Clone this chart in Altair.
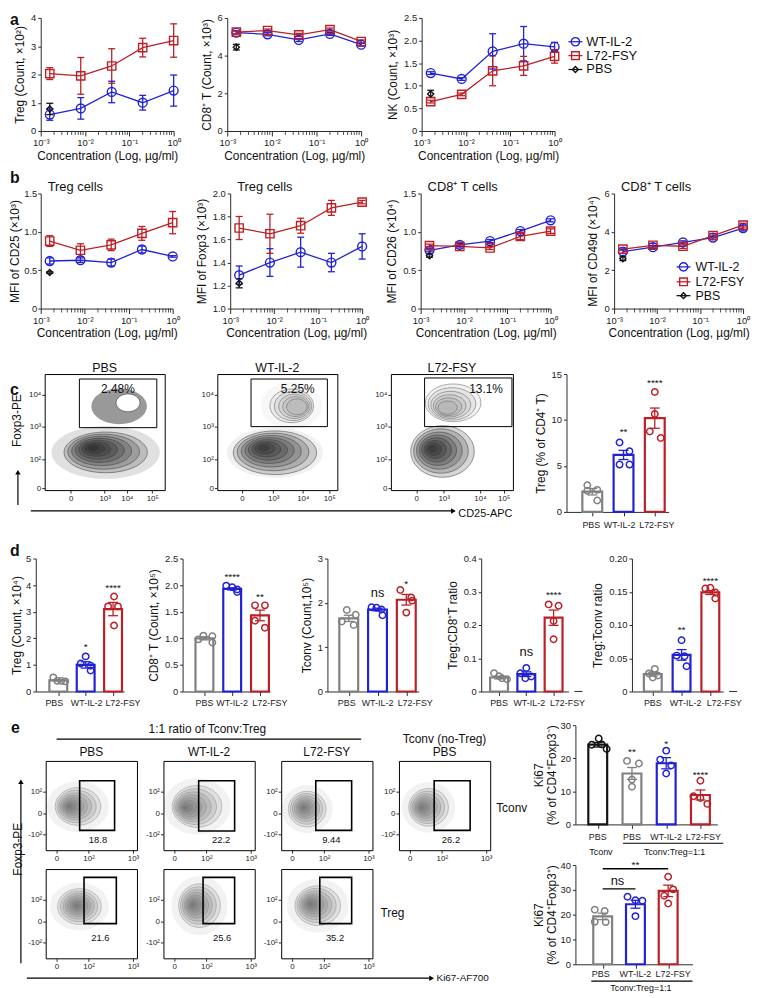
import altair as alt
import pandas as pd

FONT = "Liberation Sans"
BLUE = "#2222d4"
RED = "#bc2027"
GRAY = "#808080"
BLACK = "#141414"
AXC = "#2b2b2b"

# ---------------- panel a / b : dose response ----------------
CONC = [0.0016, 0.008, 0.04, 0.2, 1.0]
PBS_CONC = [0.0016]
SERIES = ["WT-IL-2", "L72-FSY", "PBS"]

A1_WT = [0.58, 0.80, 1.38, 1.00, 1.43]
A1_WT_E = [0.20, 0.38, 0.38, 0.26, 0.55]
A1_L72 = [2.03, 1.95, 2.30, 2.95, 3.20]
A1_L72_E = [0.21, 0.65, 0.61, 0.33, 0.59]
A1_PBS, A1_PBS_E = [0.78], [0.20]

A2_WT = [5.22, 5.13, 4.83, 5.15, 4.58]
A2_WT_E = [0.08, 0.08, 0.08, 0.08, 0.08]
A2_L72 = [5.25, 5.33, 5.10, 5.38, 4.75]
A2_L72_E = [0.08, 0.08, 0.08, 0.08, 0.08]
A2_PBS, A2_PBS_E = [4.45], [0.15]

A3_WT = [1.28, 1.15, 1.76, 1.93, 1.86]
A3_WT_E = [0.03, 0.03, 0.39, 0.38, 0.10]
A3_L72 = [0.65, 0.81, 1.33, 1.44, 1.65]
A3_L72_E = [0.03, 0.03, 0.33, 0.21, 0.15]
A3_PBS, A3_PBS_E = [0.82], [0.08]

B1_WT = [0.62, 0.63, 0.60, 0.77, 0.68]
B1_WT_E = [0.04, 0.03, 0.045, 0.045, 0.01]
B1_L72 = [0.88, 0.76, 0.83, 0.98, 1.12]
B1_L72_E = [0.07, 0.085, 0.075, 0.09, 0.145]
B1_PBS, B1_PBS_E = [0.47], [0.01]

B2_WT = [1.29, 1.40, 1.49, 1.40, 1.54]
B2_WT_E = [0.08, 0.12, 0.13, 0.08, 0.11]
B2_L72 = [1.70, 1.65, 1.72, 1.875, 1.925]
B2_L72_E = [0.10, 0.17, 0.065, 0.065, 0.015]
B2_PBS, B2_PBS_E = [1.22], [0.04]

B3_WT = [0.76, 0.83, 0.88, 1.01, 1.15]
B3_WT_E = [0.02, 0.02, 0.02, 0.02, 0.02]
B3_L72 = [0.82, 0.81, 0.79, 0.94, 1.01]
B3_L72_E = [0.02, 0.02, 0.02, 0.04, 0.03]
B3_PBS, B3_PBS_E = [0.69], [0.02]

B4_WT = [2.97, 3.20, 3.45, 3.70, 4.20]
B4_WT_E = [0.10, 0.08, 0.08, 0.08, 0.15]
B4_L72 = [3.10, 3.30, 3.25, 3.80, 4.35]
B4_L72_E = [0.05, 0.10, 0.12, 0.10, 0.10]
B4_PBS, B4_PBS_E = [2.60], [0.10]

# ---------------- bar charts ----------------
G3 = ["PBS", "WT-IL-2", "L72-FSY"]
C3COL = [GRAY, BLUE, RED]

CB_MEAN = [2.2, 6.2, 10.2]
CB_SEM = [0.35, 0.5, 1.1]
CB_PTS = [[2.9, 2.4, 2.3, 1.25], [7.55, 6.6, 5.15, 5.15], [13.05, 10.65, 8.75, 8.05]]
CB_SIG = [(1, 9.0, "**"), (2, 14.4, "****")]

D1_MEAN = [0.42, 1.0, 3.1]
D1_SEM = [0.03, 0.12, 0.25]
D1_PTS = [[0.53, 0.40, 0.40, 0.38], [1.32, 1.05, 0.97, 0.79], [3.57, 3.2, 3.2, 2.48]]
D1_SIG = [(1, 1.8, "*"), (2, 4.0, "****")]

D2_MEAN = [1.0, 1.93, 1.43]
D2_SEM = [0.03, 0.02, 0.10]
D2_PTS = [[1.05, 1.04, 0.98, 0.92], [1.99, 1.96, 1.92, 1.87], [1.62, 1.62, 1.33, 1.2]]
D2_SIG = [(1, 2.2, "****"), (2, 1.83, "**")]

D3_MEAN = [1.65, 1.85, 2.07]
D3_SEM = [0.07, 0.03, 0.12]
D3_PTS = [[1.84, 1.73, 1.58, 1.5], [1.9, 1.89, 1.85, 1.72], [2.29, 2.12, 2.05, 1.78]]
D3_SIG = [(1, 2.22, "ns"), (2, 2.5, "*")]

D4_MEAN = [0.042, 0.052, 0.222]
D4_SEM = [0.004, 0.007, 0.023]
D4_PTS = [[0.055, 0.046, 0.04, 0.037], [0.071, 0.055, 0.045, 0.04], [0.262, 0.258, 0.212, 0.157]]
D4_SIG = [(1, 0.118, "ns"), (2, 0.3, "****")]

D5_MEAN = [0.026, 0.055, 0.149]
D5_SEM = [0.003, 0.008, 0.003]
D5_PTS = [[0.034, 0.027, 0.024, 0.021], [0.077, 0.054, 0.053, 0.038], [0.155, 0.156, 0.149, 0.14]]
D5_SIG = [(1, 0.0965, "**"), (2, 0.17, "****")]

ET_CATS = ["PBS", "PBS", "WT-IL-2", "L72-FSY"]
ET_COL = [BLACK, GRAY, BLUE, RED]
ET_MEAN = [24.1, 15.4, 18.5, 8.9]
ET_SEM = [0.7, 1.8, 1.7, 1.5]
ET_PTS = [[24.1, 26.0, 24.2, 22.8], [19.2, 18.4, 13.6, 11.4], [22.3, 19.6, 17.8, 15.4], [13.2, 8.5, 8.0, 6.2]]
ET_SIG = [(1, 22.8, "**"), (2, 25.2, "*"), (3, 15.9, "****")]

EB_MEAN = [19.3, 24.2, 29.6]
EB_SEM = [1.3, 1.6, 2.3]
EB_PTS = [[22.0, 21.5, 17.1, 17.0], [27.2, 25.8, 25.6, 19.4], [35.3, 30.2, 27.6, 24.5]]
EB_LINES = [(0, 1, 30.4), (0, 2, 38.5)]
EB_SIG = [(0.45, 33.6, "ns"), (1.0, 41.3, "**")]

# layout-only: point jitter and category-label shifts (px)
CB_JIT = [[-5, 5, -5, 5], [-4, 6, -4, 6], [0, 0, -5, 6]]
D1_JIT = [[-5, -1, 3, 7], [0, -5, 5, 5], [1, -5, 5, 1]]
D2_JIT = [[-1, 8, -6, 8], [-6, 0, 5, 5], [-5, 5, -5, 5]]
D3_JIT = [[-2, 7, -7, 5], [-6, -1, 4, 5], [-6, 5, 6, 0]]
D4_JIT = [[-5, 0, 3, 8], [0, -6, 5, -1], [-5, 5, 0, 0]]
D5_JIT = [[2, -4, 5, 0], [0, -5, 3, 5], [-5, 0, 5, 5]]
ET_JIT = [[-6, 1, 4, 9], [-5, 7, 0, 0], [0, -6, 5, 0], [0, -7, 0, 7]]
EB_JIT = [[-8, 2, -8, 3], [-8, 0, 7, 0], [0, 5, -4, 0]]
CB_LSH = [-1, -4, 2]
D1_LSH = [-4, 1, 10]
D2_LSH = [0, 0, 10]
D3_LSH = [-2, 0, 9]
D4_LSH = [0, 3, 14]
D5_LSH = [0, 4, 14]
ET_LSH = [0, 0, 0, 3]
EB_LSH = [-2, 0, 5]

# ---------------- flow plots ----------------
C_PCT = ["2.48%", "5.25%", "13.1%"]
E_PCT = ["18.8", "22.2", "9.44", "26.2", "21.6", "25.6", "35.2"]
C_XT = [[21.6, 49.9, 68.5, 89.6], [20.5, 46.6, 71.2, 93.2], [20.8, 43.2, 73.0, 92.4]]
C_XL = ["0", "10³", "10⁴", "10⁵"]
C_YT = [1.5, 26.2, 54.7, 82.1]
C_YL = ["0", "10²", "10³", "10⁴"]
E_XT = [11.7, 47.0, 95.6]
E_XL = ["0", "10²", "10³"]
E_YT = [17.8, 40.7, 66.0]
E_YL = ["-10²", "0", "10²"]
C_GATES = [(28.9, 93.4, 53.8, 95.7), (28.1, 91.7, 54.7, 95.7), (27.6, 99.2, 54.7, 96.6)]
E_GATES = [(37.2, 75.5, 22.2, 77.8), (38.6, 78.0, 21.5, 77.8), (37.9, 77.2, 22.2, 77.8), (38.6, 78.0, 22.2, 77.8),
           (42.0, 77.4, 38.9, 90.7), (43.4, 78.0, 38.9, 90.7), (42.3, 77.2, 38.9, 90.7)]
C_LABXY = [(61, 87.2), (67, 87.2), (78, 87.2)]
E_LABXY = [(57.3, 11.9), (63.2, 11.9), (55, 11.9), (57, 11.9), (60, 23), (64.3, 23), (59, 23)]

C_POPS = [
    [dict(cx=50.8, cy=32.5, rx=42, ry=20.5, kx=38.8, ky=36.8, n=8, op=0.16, fill="#000", stk="#333", halo=1.3,
          hop=0.12),
     dict(cx=62, cy=72.2, rx=28, ry=18, kx=62, ky=72.2, n=1, op=0.4, fill="#000", stk="transparent"),
     dict(cx=69.4, cy=75.2, rx=12, ry=9, kx=69.4, ky=75.2, n=1, op=1, fill="#fff", stk="#222")],
    [dict(cx=48, cy=32.2, rx=42, ry=22, kx=37, ky=36.8, n=8, op=0.15, fill="#000", stk="#333", halo=1.15, hop=0.06),
     dict(cx=62, cy=72.6, rx=22, ry=17, kx=70, ky=71.1, n=5, op=0.05, fill="#000", stk="#555", halo=1.4,
          hop=0.03)],
    [dict(cx=42.3, cy=33.3, rx=32, ry=26, kx=33, ky=35.9, n=8, op=0.16, fill="#000", stk="#333"),
     dict(cx=51, cy=75.2, rx=28, ry=19, kx=44, ky=68.9, n=6, op=0.05, fill="#000", stk="#555")],
]
E_POPS = [
    (35.4, 49, 23, 19, 24.5, 49), (36.8, 49, 25, 21, 22.4, 47.4), (28.5, 46, 19, 18, 24, 48), (32.5, 48, 20, 19, 24, 48),
    (37, 58, 22, 18, 33.6, 59.3), (39.5, 59, 21, 22, 31, 60), (40, 59, 23, 20, 31, 61),
]
LEVELS = [1.0, 0.86, 0.72, 0.59, 0.47, 0.35, 0.24, 0.13]

ONE = pd.DataFrame({"a": [0]})


def lab_expr(vals, labs):
    s = "''"
    for v, l in reversed(list(zip(vals, labs))):
        s = f"abs(datum.value - ({v})) < 1e-6 ? '{l}' : ({s})"
    return s


def num_expr(dec):
    return f"datum.value == 0 ? '0' : format(datum.value, '.{dec}f')"


def T(t, x, y, fs=12, align="left", baseline="alphabetic", weight="normal", angle=0):
    return alt.Chart(pd.DataFrame({"t": [t]})).mark_text(
        align=align, baseline=baseline, fontSize=fs, fontWeight=weight, angle=angle, font=FONT, color="#111"
    ).encode(text="t:N", x=alt.value(x), y=alt.value(y))


def HL(x0, x1, y, sw=1.2):
    return alt.Chart(ONE).mark_rule(color="black", strokeWidth=sw).encode(x=alt.value(x0), x2=alt.value(x1), y=alt.value(y))


def VL(x, y0, y1, sw=1.2):
    return alt.Chart(ONE).mark_rule(color="black", strokeWidth=sw).encode(x=alt.value(x), y=alt.value(y0), y2=alt.value(y1))


def TRI(x, y, shape):
    return alt.Chart(ONE).mark_point(shape=shape, filled=True, size=30, color="black", opacity=1).encode(
        x=alt.value(x), y=alt.value(y))


def GUARD(x0, x1, y0, y1):
    # invisible box that fixes the layout extent of a panel
    return alt.Chart(ONE).mark_rect(opacity=0).encode(
        x=alt.value(x0), x2=alt.value(x1), y=alt.value(y0), y2=alt.value(y1))


def blank(w, h, extras=(), top=0, bot=None):
    b = h if bot is None else bot
    return alt.layer(GUARD(0, w, -top, b), *extras).properties(width=w, height=h)


MINOR = [m * 10.0 ** e for e in (-3, -2, -1) for m in range(2, 10)]
LOG_EXPR = ("datum.value < 0.005 ? '10⁻³' : datum.value < 0.05 ? '10⁻²' : "
            "datum.value < 0.5 ? '10⁻¹' : '10⁰'")


def dose_chart(ytitle, ydom, yvals, ydec, wt, wte, l7, l7e, pbs, pbse, w, h, head=None, tpad=4, lpad=2):
    rows = []
    for g, col, shp, sz, ms, es, cs in [("WT-IL-2", BLUE, "circle", 80, wt, wte, CONC),
                                        ("L72-FSY", RED, "square", 70, l7, l7e, CONC),
                                        ("PBS", BLACK, "diamond", 38, pbs, pbse, PBS_CONC)]:
        for c, m, e in zip(cs, ms, es):
            rows.append(dict(g=g, col=col, shp=shp, sz=sz, c=c, m=m, lo=m - e, hi=m + e))
    df = pd.DataFrame(rows)
    xs = alt.Scale(type="log", domain=[0.001, 1], nice=False)
    xa = alt.Axis(values=[0.001, 0.01, 0.1, 1], labelExpr=LOG_EXPR, title="Concentration (Log, µg/ml)",
                  tickSize=5, titlePadding=3)
    ys = alt.Scale(domain=ydom, nice=False, zero=False)
    ya = alt.Axis(values=yvals, labelExpr=num_expr(ydec), title=ytitle, titlePadding=tpad, labelPadding=lpad)

    def X(f):
        return alt.X(f, scale=xs, axis=xa)

    def Y(f):
        return alt.Y(f, scale=ys, axis=ya)

    base = alt.Chart(df)
    st = alt.Stroke("col:N", scale=None)
    lines = base.transform_filter("datum.g != 'PBS'").mark_line(strokeWidth=1.3).encode(
        x=X("c:Q"), y=Y("m:Q"), stroke=st, detail="g:N")
    rules = base.mark_rule(strokeWidth=1.3).encode(x=X("c:Q"), y=Y("lo:Q"), y2="hi:Q", stroke=st)
    cap_lo = base.mark_tick(orient="horizontal", size=7, thickness=1.3, opacity=1).encode(
        x=X("c:Q"), y=Y("lo:Q"), color=alt.Color("col:N", scale=None))
    cap_hi = base.mark_tick(orient="horizontal", size=7, thickness=1.3, opacity=1).encode(
        x=X("c:Q"), y=Y("hi:Q"), color=alt.Color("col:N", scale=None))
    pts = base.mark_point(filled=False, strokeWidth=1.4, opacity=1).encode(
        x=X("c:Q"), y=Y("m:Q"), shape=alt.Shape("shp:N", scale=None), size=alt.Size("sz:Q", scale=None), stroke=st)
    minor = alt.Chart(pd.DataFrame({"c": MINOR})).mark_tick(orient="vertical", size=4, thickness=0.8,
                                                          color=AXC, opacity=1).encode(x=X("c:Q"), y=alt.value(h + 2))
    layers = [minor, lines, rules, cap_lo, cap_hi, pts]
    if head:
        layers.append(T(head, 7, -3, fs=13))
    return alt.layer(*layers).properties(width=w, height=h)


def legend_chart(sx, tx, ys, fs, h):
    df = pd.DataFrame({"g": SERIES, "col": [BLUE, RED, BLACK], "shp": ["circle", "square", "diamond"],
                       "sz": [70, 60, 35], "ly": ys})
    base = alt.Chart(df)
    Yp = alt.Y("ly:Q", scale=None, axis=None)
    st = alt.Stroke("col:N", scale=None)
    stub = base.mark_rule(strokeWidth=1.3).encode(x=alt.value(sx - 7), x2=alt.value(sx + 7), y=Yp, stroke=st)
    sym = base.mark_point(filled=False, strokeWidth=1.4, opacity=1).encode(
        x=alt.value(sx), y=Yp, shape=alt.Shape("shp:N", scale=None), size=alt.Size("sz:Q", scale=None), stroke=st)
    lab = base.mark_text(align="left", baseline="middle", fontSize=fs, font=FONT, color="#111").encode(
        x=alt.value(tx), y=Yp, text="g:N")
    return alt.layer(stub, sym, lab).properties(width=1, height=h)


def bar_chart(ytitle, cats, cols, means, sems, pts, jit, sig, ydom, yvals, ydec, w, h, L, bw, s, lsh, ldy=12,
              dash=False, lines=None, below=(), title_pad=4, extras=()):
    n = len(cats)
    R = w - L - bw - (n - 1) * s
    xmin = -(L + bw / 2) / s
    xmax = (n - 1) + (R + bw / 2) / s
    hw = bw / 2 / s
    idx = list(range(n))
    bdf = pd.DataFrame({"i": idx, "x0": [i - hw for i in idx], "x1": [i + hw for i in idx], "m": means,
                        "z": [0] * n, "lo": [m - e for m, e in zip(means, sems)],
                        "hi": [m + e for m, e in zip(means, sems)], "col": cols})
    prow = []
    for i in idx:
        for v, d in zip(pts[i], jit[i]):
            prow.append({"px": i + d / s, "v": v, "col": cols[i]})
    pdf = pd.DataFrame(prow)
    xs = alt.Scale(domain=[xmin, xmax], nice=False, zero=False)
    xa = alt.Axis(values=idx, labels=False, title=None, tickSize=4)
    ys = alt.Scale(domain=ydom, nice=False, zero=False)
    ya = alt.Axis(values=yvals, labelExpr=num_expr(ydec), title=ytitle, titlePadding=title_pad,
                  titleLineHeight=13)

    def X(f):
        return alt.X(f, scale=xs, axis=xa)

    def Y(f):
        return alt.Y(f, scale=ys, axis=ya)

    st = alt.Stroke("col:N", scale=None)
    bars = alt.Chart(bdf).mark_bar(fill="white", fillOpacity=1, strokeWidth=2.2).encode(
        x=X("x0:Q"), x2=alt.X2("x1:Q"), y=Y("m:Q"), y2=alt.Y2("z:Q"), stroke=st)
    dots = alt.Chart(pdf).mark_point(filled=False, size=42, strokeWidth=1.5, opacity=1).encode(
        x=X("px:Q"), y=Y("v:Q"), stroke=st)
    err = alt.Chart(bdf).mark_rule(strokeWidth=1.3).encode(x=X("i:Q"), y=Y("lo:Q"), y2=alt.Y2("hi:Q"), stroke=st)
    cap1 = alt.Chart(bdf).mark_tick(orient="horizontal", size=10, thickness=1.3, opacity=1).encode(
        x=X("i:Q"), y=Y("hi:Q"), color=alt.Color("col:N", scale=None))
    cap2 = alt.Chart(bdf).mark_tick(orient="horizontal", size=10, thickness=1.3, opacity=1).encode(
        x=X("i:Q"), y=Y("lo:Q"), color=alt.Color("col:N", scale=None))
    ldf = pd.DataFrame({"lx": [i + d / s for i, d in zip(idx, lsh)], "t": cats})
    xlab = alt.Chart(ldf).mark_text(fontSize=9, baseline="middle", align="center", font=FONT, color="#222").encode(
        x=X("lx:Q"), y=alt.value(h + ldy), text="t:N")
    layers = [bars, dots, err, cap1, cap2, xlab]
    sdf = pd.DataFrame([{"x": a, "y": b, "t": c} for a, b, c in sig])
    stars = alt.Chart(sdf).transform_filter("datum.t != 'ns'").mark_text(
        fontSize=10, baseline="middle", dy=3, font=FONT, color="#111").encode(x=X("x:Q"), y=Y("y:Q"), text="t:N")
    nss = alt.Chart(sdf).transform_filter("datum.t == 'ns'").mark_text(
        fontSize=13, baseline="middle", font=FONT, color="#111").encode(x=X("x:Q"), y=Y("y:Q"), text="t:N")
    layers += [stars, nss]
    if lines:
        sl = pd.DataFrame([{"x0": a, "x1": b, "y": c} for a, b, c in lines])
        layers.append(alt.Chart(sl).mark_rule(color="black", strokeWidth=1.5).encode(
            x=X("x0:Q"), x2=alt.X2("x1:Q"), y=Y("y:Q")))
    if dash:
        layers.append(alt.Chart(ONE).mark_rule(color=AXC, strokeWidth=1).encode(
            x=alt.value(w + 6), x2=alt.value(w + 14), y=alt.value(h)))
    for b in below:
        if b[0] == "t":
            layers.append(T(b[1], b[2], h + b[3], fs=9, align="center"))
        else:
            layers.append(HL(b[1], b[2], h + b[3], sw=1.2))
    layers += list(extras)
    return alt.layer(*layers).properties(width=w, height=h)


def contour_df(pops):
    rows = []
    for p in pops:
        a = p["ry"] / p["rx"]
        path = f"M -1 0 A 1 {a:.4f} 0 1 0 1 0 A 1 {a:.4f} 0 1 0 -1 0"
        if p.get("halo"):
            rows.append(dict(x=p["cx"], y=p["cy"], shp=path, sz=(2 * p["rx"] * p["halo"]) ** 2, fill="#000",
                             op=p["hop"], stk="transparent"))
        for k in LEVELS[:p["n"]]:
            rows.append(dict(x=p["kx"] + (p["cx"] - p["kx"]) * k, y=p["ky"] + (p["cy"] - p["ky"]) * k, shp=path,
                             sz=(2 * p["rx"] * k) ** 2, fill=p["fill"], op=p["op"], stk=p["stk"]))
    return pd.DataFrame(rows)


def flow_chart(w, h, xt, xl, yt, yl, pops, gate, gate_sw, lab, lxy, lfs, extras=()):
    cdf = contour_df(pops)
    xs = alt.Scale(domain=[0, 100], nice=False, zero=False)
    ys = alt.Scale(domain=[0, 100], nice=False, zero=False)
    xa = alt.Axis(values=xt, labelExpr=lab_expr(xt, xl), title=None, domain=False, tickSize=3, labelFontSize=8,
                  labelPadding=1)
    ya = alt.Axis(values=yt, labelExpr=lab_expr(yt, yl), title=None, domain=False, tickSize=3, labelFontSize=8,
                  labelPadding=1)

    def X(f):
        return alt.X(f, scale=xs, axis=xa)

    def Y(f):
        return alt.Y(f, scale=ys, axis=ya)

    cont = alt.Chart(cdf).mark_point(filled=True, strokeWidth=0.5, opacity=1, clip=True).encode(
        x=X("x:Q"), y=Y("y:Q"), shape=alt.Shape("shp:N", scale=None), size=alt.Size("sz:Q", scale=None),
        fill=alt.Fill("fill:N", scale=None), fillOpacity=alt.FillOpacity("op:Q", scale=None),
        stroke=alt.Stroke("stk:N", scale=None))
    gdf = pd.DataFrame([{"x0": gate[0], "x1": gate[1], "y0": gate[2], "y1": gate[3]}])
    g = alt.Chart(gdf).mark_rect(fillOpacity=0, stroke="black", strokeWidth=gate_sw).encode(
        x=X("x0:Q"), x2=alt.X2("x1:Q"), y=Y("y0:Q"), y2=alt.Y2("y1:Q"))
    ldf = pd.DataFrame({"x": [lxy[0]], "y": [lxy[1]], "t": [lab]})
    lt = alt.Chart(ldf).mark_text(fontSize=lfs, baseline="middle", align="center", font=FONT, color="#111").encode(
        x=X("x:Q"), y=Y("y:Q"), text="t:N")
    return alt.layer(cont, g, lt, *extras).properties(
        width=w, height=h, view=alt.ViewBackground(stroke="black", strokeWidth=1))


# ================= Row A  (plot top = row origin) =================
HA = 114
a1 = dose_chart("Treg (Count, ×10²)", [0, 4], [0, 1, 2, 3, 4], 0, A1_WT, A1_WT_E, A1_L72, A1_L72_E,
                A1_PBS, A1_PBS_E, 134, HA)
a2 = dose_chart("CD8⁺ T (Count, ×10³)", [0, 6], [0, 2, 4, 6], 0, A2_WT, A2_WT_E, A2_L72, A2_L72_E,
                A2_PBS, A2_PBS_E, 135, HA)
a3 = dose_chart("NK (Count, ×10³)", [0, 2.5], [0, 0.5, 1, 1.5, 2, 2.5], 1, A3_WT, A3_WT_E, A3_L72, A3_L72_E,
                A3_PBS, A3_PBS_E, 134, HA)
rowA = alt.hconcat(
    blank(31, HA, [T("a", 0, -6, fs=16, weight="bold", baseline="top")], top=6, bot=150),
    a1, blank(54, HA), a2, blank(61, HA), a3,
    legend_chart(21, 32, [24, 38, 52], 13, HA),
    spacing=0, bounds="flush")

# ================= Row B =================
HB = 116
b1 = dose_chart("MFI of CD25 (×10³)", [0, 1.5], [0, 0.5, 1.0, 1.5], 1, B1_WT, B1_WT_E, B1_L72, B1_L72_E,
                B1_PBS, B1_PBS_E, 133, HB, head="Treg cells", tpad=2, lpad=1)
b2 = dose_chart("MFI of Foxp3 (×10³)", [1.0, 2.0], [1.0, 1.2, 1.4, 1.6, 1.8, 2.0], 1, B2_WT, B2_WT_E, B2_L72,
                B2_L72_E, B2_PBS, B2_PBS_E, 133, HB, head="Treg cells")
b3 = dose_chart("MFI of CD26 (×10⁴)", [0, 1.5], [0, 0.5, 1.0, 1.5], 1, B3_WT, B3_WT_E, B3_L72, B3_L72_E,
                B3_PBS, B3_PBS_E, 131, HB, head="CD8⁺ T cells")
b4 = dose_chart("MFI of CD49d (×10⁴)", [0, 6], [0, 2, 4, 6], 0, B4_WT, B4_WT_E, B4_L72, B4_L72_E,
                B4_PBS, B4_PBS_E, 130, HB, head="CD8⁺ T cells")
rowB = alt.hconcat(
    blank(31, HB, [T("b", 0, -24, fs=16, weight="bold", baseline="top")], top=24, bot=152),
    b1, blank(58, HB), b2, blank(59, HB), b3, blank(64, HB), b4,
    legend_chart(-60, -48, [74, 89, 103], 12.5, HB),
    spacing=0, bounds="flush")

# ================= Row C =================
HC = 117
c_titles = ["PBS", "WT-IL-2", "L72-FSY"]
c_w = [121, 121, 123]
cflows = []
for k in range(3):
    cflows.append(flow_chart(c_w[k], HC, C_XT[k], C_XL, C_YT, C_YL, C_POPS[k], C_GATES[k], 1.0, C_PCT[k],
                             C_LABXY[k], 12, [T(c_titles[k], c_w[k] / 2, -2, fs=12.5, align="center")]))
cbar = bar_chart("Treg (% of CD4⁺ T)", G3, C3COL, CB_MEAN, CB_SEM, CB_PTS, CB_JIT, CB_SIG, [0, 15],
                 [0, 5, 10, 15], 0, 103, 139, 16, 20, 31.5, CB_LSH, ldy=13)
spacerC = blank(35, HC, [
    T("c", 0, 8, fs=16, weight="bold", baseline="top"),
    T("Foxp3-PE", 7, 47, fs=12, align="center", baseline="middle", angle=270),
    VL(8, 132, 101), TRI(8, 99, "triangle-up"),
    HL(21, 445, 138), TRI(447, 138, "triangle-right"),
    T("CD25-APC", 452, 141, fs=11, baseline="middle"),
], top=16, bot=160)
rowC = alt.hconcat(spacerC, cflows[0], blank(53, HC), cflows[1], blank(54, HC), cflows[2], blank(54, HC), cbar,
                   spacing=0, bounds="flush")

# ================= Row D =================
HD = 134
d1 = bar_chart("Treg (Count, ×10⁴)", G3, C3COL, D1_MEAN, D1_SEM, D1_PTS, D1_JIT, D1_SIG, [0, 5],
               [0, 1, 2, 3, 4, 5], 0, 89, HD, 13.7, 18, 27.6, D1_LSH, title_pad=2)
d2 = bar_chart("CD8⁺ T (Count, ×10⁵)", G3, C3COL, D2_MEAN, D2_SEM, D2_PTS, D2_JIT, D2_SIG, [0, 2.5],
               [0, 0.5, 1.0, 1.5, 2.0, 2.5], 1, 88, HD, 13, 18, 28, D2_LSH)
d3 = bar_chart("Tconv (Count,10⁵)", G3, C3COL, D3_MEAN, D3_SEM, D3_PTS, D3_JIT, D3_SIG, [0, 3],
               [0, 1, 2, 3], 0, 92, HD, 12, 19, 29, D3_LSH)
d4 = bar_chart("Treg:CD8⁺T ratio", G3, C3COL, D4_MEAN, D4_SEM, D4_PTS, D4_JIT, D4_SIG, [0, 0.4],
               [0, 0.1, 0.2, 0.3, 0.4], 1, 88, HD, 9, 18, 27.5, D4_LSH, dash=True)
d5 = bar_chart("Treg:Tconv ratio", G3, C3COL, D5_MEAN, D5_SEM, D5_PTS, D5_JIT, D5_SIG, [0, 0.2],
               [0, 0.05, 0.1, 0.15, 0.2], 2, 92, HD, 12, 18, 29, D5_LSH, dash=True)
rowD = alt.hconcat(
    blank(26, HD, [T("d", 0, -16, fs=16, weight="bold", baseline="top")], top=17, bot=154),
    d1, blank(59, HD), d2, blank(58, HD), d3, blank(63, HD), d4, blank(64, HD), d5,
    spacing=0, bounds="flush")

# ================= Row E  (row origin = top of upper Ki67 plot) =================
WE, HE = 92, 90
COLSTEP = WE + 26.7
eflows = []
for k in range(7):
    cx, cy, rx, ry, kx, ky = E_POPS[k]
    pops = [dict(cx=cx, cy=cy, rx=rx, ry=ry, kx=kx, ky=ky, n=8, op=0.08, fill="#000", stk="#8a8a8a",
                 halo=1.35, hop=0.05)]
    extras = []
    if k == 3:
        extras += [T("Tconv", 98, 47, fs=12, baseline="middle"), GUARD(WE, 132.5, 0, 1)]
    if k == 4:
        extras += [VL(-25, 95, -86), TRI(-25, -88, "triangle-up"),
                   T("Foxp3-PE", -28, -20, fs=12, align="center", baseline="middle", angle=270),
                   HL(-19, 387, 110), TRI(389, 110, "triangle-right"),
                   T("Ki67-AF700", 394, 110, fs=10, baseline="middle")]
    if k == 6:
        extras.append(T("Treg", 100, 44, fs=12, baseline="middle"))
    eflows.append(flow_chart(WE, HE, E_XT, E_XL, E_YT, E_YL, pops, E_GATES[k], 1.6, E_PCT[k], E_LABXY[k],
                             9.5, extras))
flows = alt.concat(*eflows, columns=4, spacing={"row": 19, "column": 26.7}, bounds="flush")

TOPH = 35
top_e = alt.layer(
    GUARD(-35, 3 * COLSTEP + WE, 0, TOPH),
    T("e", -35, -5, fs=16, weight="bold", baseline="top"),
    T("1:1 ratio of Tconv:Treg", 163, 8, fs=12, align="center"),
    HL(11, 318, 14, sw=1.2),
    T("PBS", WE / 2, 31, fs=12, align="center"),
    T("WT-IL-2", COLSTEP + WE / 2, 31, fs=12, align="center"),
    T("L72-FSY", 2 * COLSTEP + WE / 2, 31, fs=12, align="center"),
    T("Tconv (no-Treg)", 3 * COLSTEP + WE / 2, 18, fs=12, align="center"),
    T("PBS", 3 * COLSTEP + WE / 2, 31, fs=12, align="center"),
).properties(width=3 * COLSTEP + WE, height=TOPH)
flows_col = alt.vconcat(top_e, flows, spacing=0)

etop = bar_chart(["Ki67", "(% of CD4⁺Foxp3⁻)"], ET_CATS, ET_COL, ET_MEAN, ET_SEM, ET_PTS, ET_JIT, ET_SIG,
                 [0, 30], [0, 10, 20, 30], 0, 143, 100, 13, 19, 34.5, ET_LSH, ldy=13, title_pad=2,
                 below=[("t", "Tconv", 25.7, 31), ("l", 48, 149, 19), ("t", "Tconv:Treg=1:1", 100, 31)],
                 extras=[GUARD(-44, 0, 0, 1)])
ebot = bar_chart(["Ki67", "(% of CD4⁺Foxp3⁺)"], G3, C3COL, EB_MEAN, EB_SEM, EB_PTS, EB_JIT, EB_SIG,
                 [0, 40], [0, 10, 20, 30, 40], 0, 118, 100, 18, 19, 33, EB_LSH, ldy=10, lines=EB_LINES,
                 title_pad=2, below=[("l", 16, 118, 17), ("t", "Tconv:Treg=1:1", 66, 27)])
bars_e = alt.vconcat(etop, ebot, spacing=41, bounds="flush")
rowE = alt.hconcat(blank(1, 1, top=6, bot=1), flows_col, bars_e, spacing=0)

chart = alt.vconcat(rowA, blank(1, 3), rowB, blank(1, 14), rowC, blank(1, 9), rowD, blank(1, 8), rowE,
                    spacing=0).properties(padding=0)
chart = chart.configure_view(strokeWidth=0).configure_axis(
    domainColor=AXC, tickColor=AXC, labelColor="#222", titleColor="#111", labelFont=FONT, titleFont=FONT,
    labelFontSize=9.5, titleFontSize=12, titleFontWeight="normal", grid=False, tickSize=3, domainWidth=1,
    tickWidth=1, labelPadding=2, titlePadding=4, labelFlush=False, labelOverlap=False
).configure_text(font=FONT)

chart.save("out.html", embed_options={"renderer": "svg", "actions": False})
